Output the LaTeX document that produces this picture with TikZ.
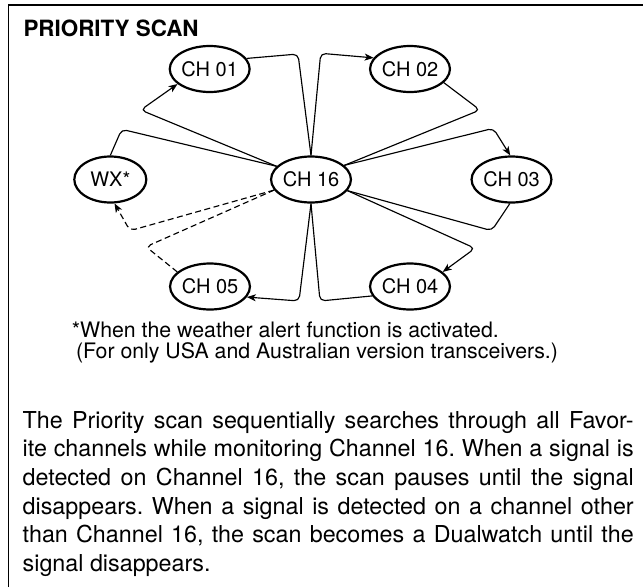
\documentclass[tikz,border=0pt]{standalone}
\usepackage{fontspec}
\setmainfont{TeX Gyre Heros}
\usetikzlibrary{arrows.meta,shapes.geometric}
\tikzset{
  chan/.style={draw, ellipse, line width=2.2pt, minimum width=72pt, minimum height=46pt,
    inner sep=0pt, font=\fontsize{20}{20}\selectfont},
  link/.style={line width=1.15pt, rounded corners=5pt},
  arr/.style={link, -{Stealth[length=9pt,width=7pt,inset=2.5pt]}},
  dsh/.style={dash pattern=on 6pt off 3.5pt},
  para/.style={anchor=base west, inner sep=0pt, font=\fontsize{23.3}{28}\selectfont},
  note/.style={anchor=base west, inner sep=0pt, font=\fontsize{21.3}{24}\selectfont},
  ttl/.style={anchor=base west, inner sep=0pt, font=\bfseries\fontsize{22.4}{24}\selectfont}
}
\begin{document}
\frenchspacing
\begin{tikzpicture}[x=1pt,y=-1pt]
\useasboundingbox (0,0) rectangle (643,587);
\fill[white] (0,0) rectangle (643,587);
\draw[line width=1.3pt] (8.6,587) -- (8.6,5) -- (643,5);

\node[ttl] (title) at (23.3,36) {PRIORITY SCAN};

\node[chan] (c16) at (311,179.5) {CH 16};
\node[chan] (c01) at (209.7,69) {CH 01};
\node[chan] (c02) at (410,69) {CH 02};
\node[chan] (c03) at (511.5,179.5) {CH 03};
\node[chan] (c04) at (410,286.5) {CH 04};
\node[chan] (c05) at (210,286.5) {CH 05};
\node[chan] (wx) at (110.3,179.5) {WX*};

\coordinate (a1) at (140.7,110);
\coordinate (a2) at (298,54);
\coordinate (a3) at (320.7,53.3);
\coordinate (a4) at (480,110);
\coordinate (a5) at (493.3,128.3);
\coordinate (a6) at (491.7,230.7);
\coordinate (a7) at (475,248.3);
\coordinate (a8) at (320,301);
\coordinate (a9) at (299,301);
\coordinate (a10) at (146,246.7);
\coordinate (a11) at (130,230.7);
\coordinate (a12) at (121.7,129.3);

\draw[arr] (c16.159) -- (a1) -- (c01.205);
\draw[link] (c01.16) -- (a2) -- (c16.north);
\draw[arr] (c16.north) -- (a3) -- (c02.163);
\draw[link] (c02.338) -- (a4) -- (c16.23);
\draw[arr] (c16.23) -- (a5) -- (c03.93);
\draw[link] (c03.266) -- (a6) -- (c16.343);
\draw[arr] (c16.343) -- (a7) -- (c04.24);
\draw[link] (c04.194) -- (a8) -- (c16.south);
\draw[arr] (c16.south) -- (a9) -- (c05.344);
\draw[link,dsh] (c05.156) -- (a10) -- (c16.196);
\draw[arr,dsh] (c16.196) -- (a11) -- (wx.280);
\draw[link] (wx.north) -- (a12) -- (c16.159);

\node[note] (n1) at (71.7,337) {*When the weather alert function is activated.};
\node[note] (n2) at (75.8,358.5) {(For only USA and Australian version transceivers.)};

\node[para] (p1) at (22.5,428) {\makebox[611pt][s]{The Priority scan sequentially searches through all Favor-}};
\node[para] (p2) at (22.5,456.7) {\makebox[611pt][s]{ite channels while monitoring Channel 16. When a signal is}};
\node[para] (p3) at (22.5,485.4) {\makebox[611pt][s]{detected on Channel 16, the scan pauses until the signal}};
\node[para] (p4) at (22.5,514) {\makebox[611pt][s]{disappears. When a signal is detected on a channel other}};
\node[para] (p5) at (22.5,542.7) {\makebox[611pt][s]{than Channel 16, the scan becomes a Dualwatch until the}};
\node[para] (p6) at (22.5,571.3) {signal disappears.};
\end{tikzpicture}
\end{document}
